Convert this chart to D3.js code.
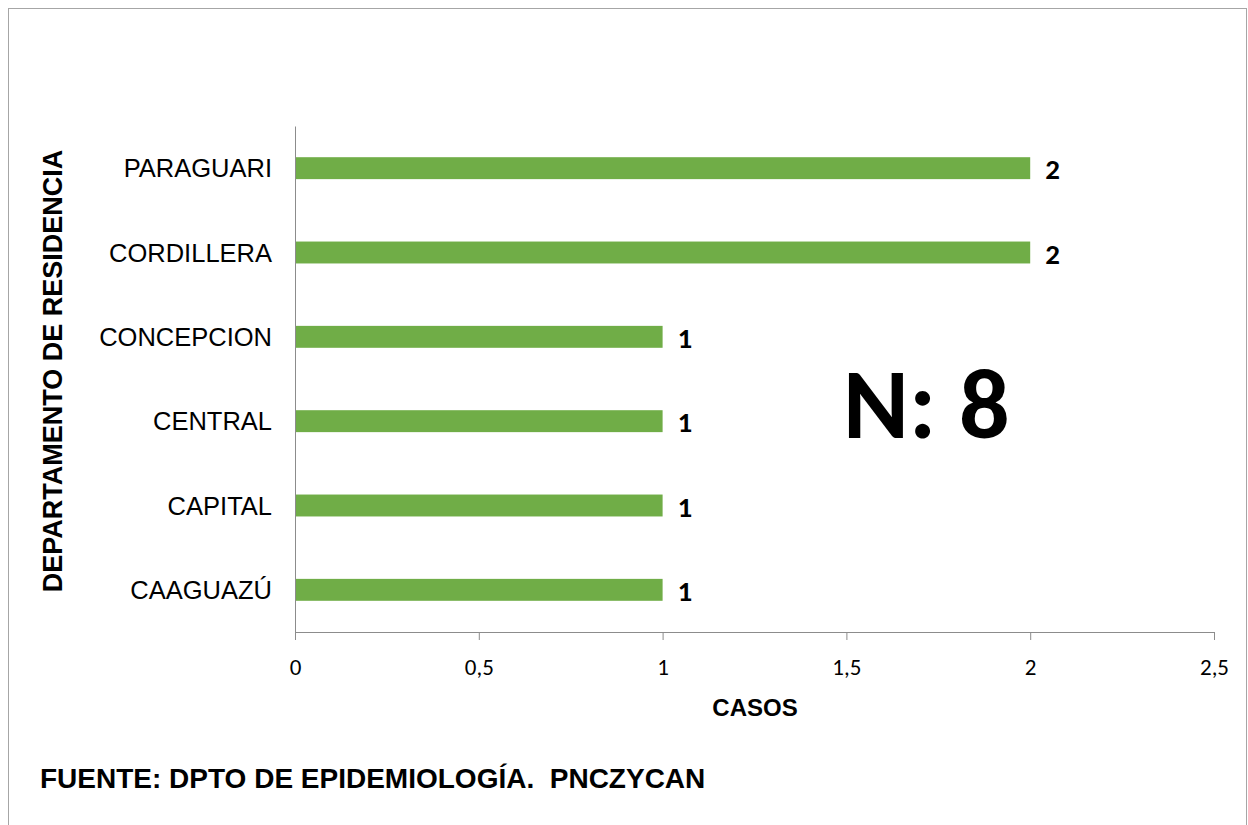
<!DOCTYPE html>
<html>
<head>
<meta charset="utf-8">
<script src="https://cdnjs.cloudflare.com/ajax/libs/d3/7.8.5/d3.min.js"></script>
<style>
  body { margin: 0; background: #fff; }
  svg { display: block; }
</style>
</head>
<body>
<script>
// chart data
const departamentos = ["CAAGUAZÚ", "CAPITAL", "CENTRAL", "CONCEPCION", "CORDILLERA", "PARAGUARI"];
const casos = [1, 1, 1, 1, 2, 2];
const xTicks = [0, 0.5, 1, 1.5, 2, 2.5];
const totalText = "N: 8";

const w = 1248;
const h = 825;
const plotL = 295, plotR = 1214, plotT = 126, plotB = 632;

const svg = d3.select("body")
              .append("svg")
              .attr("width", w)
              .attr("height", h);

// outer frame
svg.append("rect")
   .attr("x", 8.5).attr("y", 8.5)
   .attr("width", 1238).attr("height", 830)
   .attr("fill", "none")
   .attr("stroke", "#a6a6a6");

const data = departamentos.map((d, i) => ({name: d, value: casos[i]}));

const xScale = d3.scaleLinear()
                 .domain([0, 2.5])
                 .range([plotL, plotR]);
// first category at the bottom, like excel
const yScale = d3.scaleBand()
                 .domain(departamentos)
                 .range([plotB, plotT])
                 .paddingInner(0.74)
                 .paddingOuter(0.37);

// bars
svg.selectAll("rect.bar")
   .data(data)
   .enter()
   .append("rect")
   .attr("class", "bar")
   .attr("x", xScale(0))
   .attr("y", d => yScale(d.name))
   .attr("width", d => xScale(d.value) - xScale(0))
   .attr("height", yScale.bandwidth())
   .attr("fill", "#70ad47");

// value labels
svg.selectAll("text.val")
   .data(data)
   .enter()
   .append("text")
   .attr("class", "val")
   .attr("x", d => xScale(d.value) + 15)
   .attr("y", d => yScale(d.name) + yScale.bandwidth() / 2 + 11)
   .style("font-family", "Carlito, Lato, sans-serif")
   .style("font-weight", "bold")
   .style("font-size", "29px")
   .attr("fill", "#000")
   .text(d => d.value);

// x axis
const xAxis = d3.axisBottom(xScale)
                .tickValues(xTicks)
                .tickSize(8)
                .tickSizeOuter(0)
                .tickFormat(d => String(d).replace(".", ","));
const gx = svg.append("g")
   .attr("transform", "translate(0," + plotB + ")")
   .call(xAxis);
gx.select(".domain").attr("stroke", "#8c8c8c");
gx.selectAll(".tick line").attr("stroke", "#8c8c8c");
gx.selectAll(".tick text")
  .attr("y", 27)
  .attr("dy", "0.71em")
  .style("font-family", "Carlito, Lato, sans-serif")
  .style("font-size", "23px")
  .attr("fill", "#000");

// y axis (no tick marks)
const yAxis = d3.axisLeft(yScale).tickSize(0).tickSizeOuter(0);
const gy = svg.append("g")
   .attr("transform", "translate(" + plotL + ",0)")
   .call(yAxis);
gy.select(".domain").attr("stroke", "#8c8c8c");
gy.selectAll(".tick text")
  .attr("x", -23)
  .attr("dy", "0.36em")
  .style("font-family", "Arial, 'Liberation Sans', sans-serif")
  .style("font-size", "25.5px")
  .attr("fill", "#000");

// axis titles
svg.append("text")
   .attr("x", 755).attr("y", 716)
   .attr("text-anchor", "middle")
   .style("font-family", "Arial, 'Liberation Sans', sans-serif")
   .style("font-weight", "bold")
   .style("font-size", "24px")
   .text("CASOS");

svg.append("text")
   .attr("transform", "translate(62,371) rotate(-90)")
   .attr("text-anchor", "middle")
   .style("font-family", "Arial, 'Liberation Sans', sans-serif")
   .style("font-weight", "bold")
   .style("font-size", "27px")
   .text("DEPARTAMENTO DE RESIDENCIA");

// N total
svg.append("text")
   .attr("x", 843).attr("y", 438)
   .style("font-family", "Carlito, Lato, sans-serif")
   .style("font-weight", "bold")
   .style("font-size", "100px")
   .text(totalText);

// source
svg.append("text")
   .attr("x", 40).attr("y", 788)
   .style("font-family", "Arial, 'Liberation Sans', sans-serif")
   .style("font-weight", "bold")
   .style("font-size", "28px")
   .style("white-space", "pre")
   .text("FUENTE: DPTO DE EPIDEMIOLOGÍA.  PNCZYCAN");
</script>
</body>
</html>
